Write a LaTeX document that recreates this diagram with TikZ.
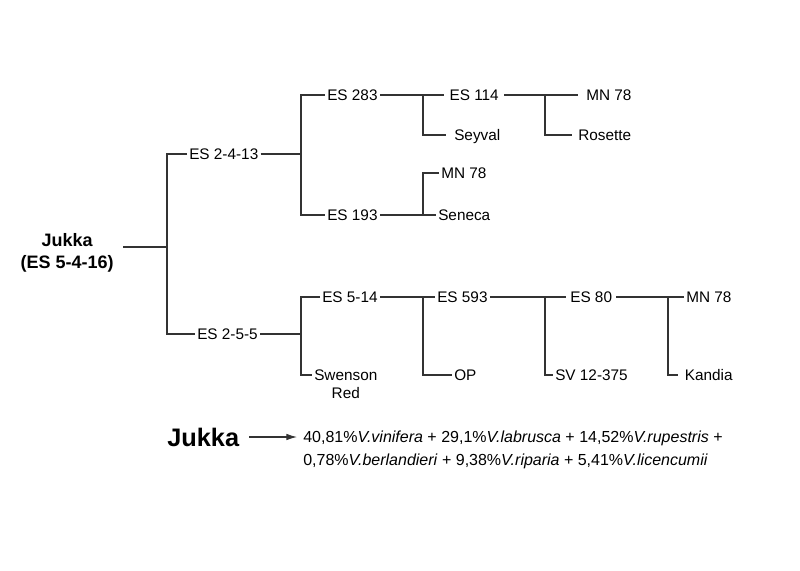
\documentclass[tikz,border=0pt]{standalone}
\usepackage{fontspec}
\setmainfont{Liberation Sans}
\usetikzlibrary{arrows.meta}

\tikzset{
  lbl/.style={font=\fontsize{11.5pt}{13.5pt}\selectfont, inner xsep=1.5pt, inner ysep=0pt, text height=8.2pt, text depth=0pt, anchor=west},
  link/.style={draw=black!80, line width=0.9pt}
}

\begin{document}
\begin{tikzpicture}[x=0.75pt,y=-0.75pt]
\useasboundingbox (0,0) rectangle (800,571);

\node[lbl,font=\fontsize{13.5pt}{16.5pt}\bfseries,text height=9.7pt,inner xsep=7pt] (jukka) at (11,240) {\begin{tabular}[t]{@{}c@{}}Jukka\\(ES 5-4-16)\end{tabular}};
\node[lbl] (es2413) at (187,154) {ES 2-4-13};
\node[lbl] (es255) at (195,334) {ES 2-5-5};
\node[lbl] (es283) at (325,95) {ES 283};
\node[lbl] (es193) at (325,215) {ES 193};
\node[lbl,inner xsep=4pt] (es114) at (444,95) {ES 114};
\node[lbl,inner xsep=6pt] (seyval) at (446,135) {Seyval};
\node[lbl,inner xsep=6pt] (mn78a) at (578,95) {MN 78};
\node[lbl,inner xsep=4.5pt] (rosette) at (572,135) {Rosette};
\node[lbl] (mn78b) at (439,173) {MN 78};
\node[lbl] (seneca) at (436,215) {Seneca};
\node[lbl] (es514) at (320,297) {ES 5-14};
\node[lbl] (swenson) at (312,375) {\begin{tabular}[t]{@{}c@{}}Swenson\\Red\end{tabular}};
\node[lbl] (es593) at (435,297) {ES 593};
\node[lbl] (op) at (452,375) {OP};
\node[lbl,inner xsep=3pt] (es80) at (566,297) {ES 80};
\node[lbl] (sv12375) at (553,375) {SV 12-375};
\node[lbl] (mn78c) at (684,297) {MN 78};
\node[lbl,inner xsep=5pt] (kandia) at (678,375) {Kandia};

\node[lbl,font=\fontsize{19pt}{22pt}\bfseries,text height=13.6pt,inner xsep=7.5pt] (jukkab) at (157,437) {Jukka};
\node[lbl,font=\fontsize{12pt}{16.9pt}\selectfont,text height=8.6pt,inner xsep=4.5pt] (mix) at (297,437) {\begin{tabular}[t]{@{}l@{}}40,81\%\textit{V.vinifera} + 29,1\%\textit{V.labrusca} + 14,52\%\textit{V.rupestris} +\\0,78\%\textit{V.berlandieri} + 9,38\%\textit{V.riparia} + 5,41\%\textit{V.licencumii}\end{tabular}};

\coordinate (b1) at (167,247);
\coordinate (b2) at (301,154);
\coordinate (b3) at (423,95);
\coordinate (b4) at (545,95);
\coordinate (b5) at (423,215);
\coordinate (b6) at (301,334);
\coordinate (b7) at (423,297);
\coordinate (b8) at (545,297);
\coordinate (b9) at (668,297);

\draw[link] (jukka.east |- b1) -- (b1);
\draw[link] (es2413.west) -| (b1) |- (es255.west);
\draw[link] (es2413.east) -- (b2);
\draw[link] (es283.west) -| (b2) |- (es193.west);
\draw[link] (es283.east) -- (es114.west);
\draw[link] (b3) |- (seyval.west);
\draw[link] (es114.east) -- (mn78a.west);
\draw[link] (b4) |- (rosette.west);
\draw[link] (es193.east) -- (seneca.west);
\draw[link] (mn78b.west) -| (b5);
\draw[link] (es255.east) -- (b6);
\draw[link] (es514.west) -| (b6) |- (swenson.west);
\draw[link] (es514.east) -- (es593.west);
\draw[link] (b7) |- (op.west);
\draw[link] (es593.east) -- (es80.west);
\draw[link] (b8) |- (sv12375.west);
\draw[link] (es80.east) -- (mn78c.west);
\draw[link] (b9) |- (kandia.west);
\draw[link,-{Latex[length=8pt,width=5pt]}] (jukkab.east) -- (mix.west);
\end{tikzpicture}
\end{document}
